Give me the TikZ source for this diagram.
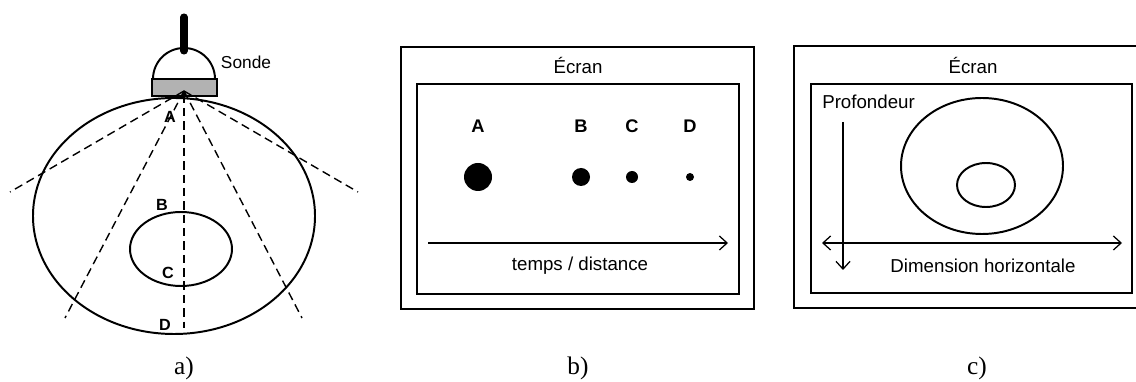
\documentclass[tikz,border=0pt]{standalone}
\usepackage{fontspec}
\setmainfont{Liberation Serif}
\setsansfont{Liberation Sans}
\usetikzlibrary{arrows.meta}

\begin{document}
\begin{tikzpicture}[x=0.025cm,y=0.025cm,>={Straight Barb[length=5.5pt,width=10pt]},
  trait/.style={line width=1.4pt},
  rayon/.style={line width=1pt,dash pattern=on 6pt off 3.5pt},
  lettre/.style={font=\sffamily\bfseries\fontsize{11.5}{13}\selectfont},
  grande/.style={font=\sffamily\bfseries\fontsize{13}{15}\selectfont},
  texte/.style={font=\sffamily\fontsize{13.3}{15}\selectfont},
  legende/.style={font=\fontsize{18}{20}\selectfont}]
 \xdef\ya{204}
 \xdef\yl{255}
 \useasboundingbox (0,0) rectangle (1136,381);
  % a) sonde et balayage
  \begin{scope}
    \draw[line width=5pt,line cap=round] (184,364) -- (184,330);
    \draw[trait] (215,302) arc (0:180:31);
    \draw[trait,fill=black!30] (152,285) rectangle (217,302);
    \node[texte,font=\sffamily\fontsize{12.3}{14}\selectfont] (sonde) at (246,319) {Sonde};
    \draw[trait] (174,165) ellipse [x radius=141,y radius=118];
    \draw[trait] (181,132) ellipse [x radius=51,y radius=37];
    \coordinate (o) at (184,290);
    \coordinate (g1) at (10,189);
    \coordinate (d1) at (358,189);
    \coordinate (g2) at (65,63);
    \coordinate (d2) at (302,63);
    \coordinate (v) at (184,53);
    \foreach \p in {g1,d1,g2,d2}
      \draw[rayon] (o) -- (\p);
    \draw[rayon,{Stealth[length=4pt,width=4pt]}-] (o) -- (v);
    \node[lettre] (A) at (170,264) {A};
    \node[lettre] (B) at (162,176) {B};
    \node[lettre] (C) at (168,108) {C};
    \node[lettre] (D) at (165,56) {D};
    \node[legende] (la) at (184,13) {a)};
  \end{scope}
  % b) mode A
  \begin{scope}
    \draw[trait] (401,72) rectangle (754,334);
    \draw[trait] (417,87) rectangle (739,297);
    \node[texte] (ecranb) at (578,316) {Écran};
    \foreach \n/\x/\r in {A/478/14,B/581/9,C/632/6,D/690/4}{
      \node[grande] (l\n) at (\x,\yl) {\n};
      \fill (\x,\ya) circle (\r);
    }
    \coordinate (t0) at (428,138);
    \coordinate (t1) at (728,138);
    \draw[line width=0.9pt,->] (t0) -- (t1);
    \node[texte] (temps) at (580,115) {temps / distance};
    \node[legende] (lb) at (578,13) {b)};
  \end{scope}
  % c) mode B
  \begin{scope}
    \draw[trait] (794,73) rectangle (1150,335);
    \draw[trait] (811,88) rectangle (1132,297);
    \node[texte] (ecranc) at (973,316) {Écran};
    \draw[trait] (982,215) ellipse [x radius=81,y radius=68];
    \draw[trait] (986,196) ellipse [x radius=29,y radius=22];
    \node[texte,anchor=west,inner sep=0pt] (prof) at (822,279) {Profondeur};
    \coordinate (p0) at (843,259);
    \coordinate (p1) at (843,111);
    \draw[line width=0.9pt,->] (p0) -- (p1);
    \coordinate (h0) at (822,138);
    \coordinate (h1) at (1122,138);
    \draw[line width=0.9pt,<->] (h0) -- (h1);
    \node[texte] (dim) at (983,115) {Dimension horizontale};
    \node[legende] (lc) at (977,13) {c)};
  \end{scope}
\end{tikzpicture}
\end{document}
